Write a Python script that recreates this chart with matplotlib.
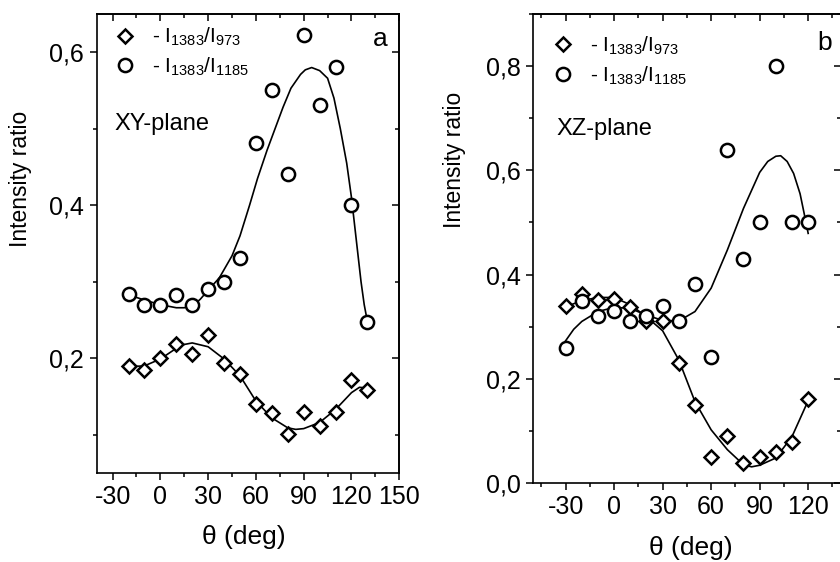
import numpy as np
import matplotlib
matplotlib.use('Agg')
import matplotlib.pyplot as plt
from matplotlib.ticker import MultipleLocator, FuncFormatter

# ---------- data
theta_a = [-20, -10, 0, 10, 20, 30, 40, 50, 60, 70, 80, 90, 100, 110, 120, 130]
a_973 = [0.190, 0.184, 0.200, 0.218, 0.206, 0.230, 0.194, 0.179, 0.140, 0.129,
         0.101, 0.130, 0.111, 0.130, 0.172, 0.159]
a_1185 = [0.284, 0.270, 0.269, 0.283, 0.270, 0.291, 0.300, 0.331, 0.481, 0.551,
          0.441, 0.622, 0.531, 0.581, 0.400, 0.247]

fit_a_1185_x = [-20, -10, 0, 10, 15, 20, 25, 30, 37, 45, 50, 56, 61, 67, 72, 77,
                82, 88, 91, 95, 100, 105, 109, 113, 117, 120, 123, 126, 128, 130]
fit_a_1185_y = [0.283, 0.276, 0.270, 0.266, 0.266, 0.268, 0.277, 0.289, 0.305,
                0.334, 0.360, 0.400, 0.435, 0.472, 0.500, 0.528, 0.553, 0.571,
                0.577, 0.580, 0.576, 0.566, 0.540, 0.500, 0.455, 0.410, 0.355,
                0.300, 0.270, 0.248]
fit_a_973_x = [-20, -10, 0, 10, 15, 20, 30, 40, 50, 60, 70, 80, 85, 90, 100,
               110, 120, 125, 130]
fit_a_973_y = [0.189, 0.190, 0.199, 0.213, 0.218, 0.220, 0.215, 0.199, 0.177,
               0.144, 0.122, 0.109, 0.107, 0.108, 0.116, 0.133, 0.155, 0.162,
               0.161]

theta_b = [-30, -20, -10, 0, 10, 20, 30, 40, 50, 60, 70, 80, 90, 100, 110, 120]
b_973 = [0.340, 0.362, 0.352, 0.353, 0.338, 0.310, 0.310, 0.230, 0.150, 0.049,
         0.090, 0.039, 0.049, 0.060, 0.079, 0.161]
b_1185 = [0.259, 0.350, 0.321, 0.330, 0.311, 0.320, 0.340, 0.311, 0.381, 0.241,
          0.639, 0.430, 0.500, 0.801, 0.500, 0.500]

fit_b_1185_x = [-30, -25, -20, -10, 0, 10, 20, 30, 40, 50, 60, 70, 80, 90, 95,
                100, 103, 107, 111, 115, 118, 120]
fit_b_1185_y = [0.273, 0.295, 0.310, 0.329, 0.337, 0.335, 0.322, 0.312, 0.311,
                0.329, 0.374, 0.447, 0.527, 0.596, 0.617, 0.627, 0.628, 0.617,
                0.594, 0.555, 0.510, 0.479]
fit_b_973_x = [-30, -20, -10, 0, 10, 20, 30, 40, 50, 60, 70, 80, 85, 90, 100,
               110, 120]
fit_b_973_y = [0.338, 0.350, 0.356, 0.356, 0.342, 0.319, 0.292, 0.236, 0.156,
               0.102, 0.064, 0.035, 0.031, 0.034, 0.048, 0.089, 0.158]

lab_973 = r'- $\mathrm{I_{1383}/I_{973}}$'
lab_1185 = r'- $\mathrm{I_{1383}/I_{1185}}$'

# ---------- style
plt.rcParams['font.family'] = ['Liberation Sans', 'DejaVu Sans']
plt.rcParams['mathtext.fontset'] = 'custom'
plt.rcParams['mathtext.rm'] = 'Liberation Sans'
plt.rcParams['mathtext.it'] = 'Liberation Sans:italic'
plt.rcParams['mathtext.bf'] = 'Liberation Sans:bold'
plt.rcParams['axes.linewidth'] = 1.2
plt.rcParams['axes.unicode_minus'] = False

comma = FuncFormatter(lambda v, p: ('%.1f' % v).replace('.', ','))

fig = plt.figure(figsize=(8.4, 5.62), dpi=100)
ax_a = fig.add_axes([0.1151, 0.1584, 0.3602, 0.8167])
ax_b = fig.add_axes([0.6349, 0.1406, 0.3657, 0.8345])


def style_axes(ax, xlim, ylim, xticks, yticks):
    ax.set_xlim(*xlim)
    ax.set_ylim(*ylim)
    ax.set_xticks(xticks)
    ax.xaxis.set_minor_locator(MultipleLocator(15))
    ax.set_yticks(yticks)
    ax.yaxis.set_minor_locator(MultipleLocator(0.1))
    ax.yaxis.set_major_formatter(comma)
    ax.tick_params(which='both', direction='out', width=1.1, labelsize=18)
    ax.tick_params(which='major', length=5, pad=4)
    ax.tick_params(which='minor', length=3)
    # top and right ticks point inwards
    top = ax.secondary_xaxis('top')
    top.set_xticks(xticks)
    top.xaxis.set_minor_locator(MultipleLocator(15))
    top.tick_params(which='both', direction='in', labeltop=False, width=1.1)
    top.tick_params(which='major', length=5)
    top.tick_params(which='minor', length=3)
    right = ax.secondary_yaxis('right')
    right.set_yticks(yticks)
    right.yaxis.set_minor_locator(MultipleLocator(0.1))
    right.tick_params(which='both', direction='in', labelright=False, width=1.1)
    right.tick_params(which='major', length=5)
    right.tick_params(which='minor', length=3)


mk = dict(linestyle='none', mfc='white', mec='black', mew=1.8)
leg = dict(loc='upper left', frameon=False, fontsize=15, numpoints=1,
           handlelength=1.0, handletextpad=0.8, borderaxespad=0, borderpad=0,
           labelspacing=0.35)

# ---------- panel a
ax = ax_a
ax.plot(fit_a_1185_x, fit_a_1185_y, color='black', lw=1.2)
ax.plot(fit_a_973_x, fit_a_973_y, color='black', lw=1.2)
ax.plot(theta_a, a_973, marker='D', ms=7.5, label=lab_973, **mk)
ax.plot(theta_a, a_1185, marker='o', ms=9.5, label=lab_1185, **mk)
style_axes(ax, (-40, 150), (0.05, 0.65), [-30, 0, 30, 60, 90, 120, 150],
           [0.2, 0.4, 0.6])
ax.set_xlabel('θ (deg)', fontsize=19)
ax.xaxis.set_label_coords(0.487, -0.113)
ax.set_ylabel('Intensity ratio', fontsize=16.5)
ax.yaxis.set_label_coords(-0.215, 0.64)
ax.text(0.06, 0.761, 'XY-plane', transform=ax.transAxes, fontsize=17,
        va='center', ha='left')
ax.text(0.963, 0.945, 'a', transform=ax.transAxes, fontsize=19,
        va='center', ha='right')
ax.legend(bbox_to_anchor=(0.059, 0.974), **leg)

# ---------- panel b
ax = ax_b
ax.plot(fit_b_1185_x, fit_b_1185_y, color='black', lw=1.2)
ax.plot(fit_b_973_x, fit_b_973_y, color='black', lw=1.2)
ax.plot(theta_b, b_973, marker='D', ms=7.5, label=lab_973, **mk)
ax.plot(theta_b, b_1185, marker='o', ms=9.5, label=lab_1185, **mk)
style_axes(ax, (-50, 140), (0.0, 0.9), [-30, 0, 30, 60, 90, 120],
           [0.0, 0.2, 0.4, 0.6, 0.8])
ax.set_xlabel('θ (deg)', fontsize=19)
ax.xaxis.set_label_coords(0.512, -0.112)
ax.set_ylabel('Intensity ratio', fontsize=16.5)
ax.yaxis.set_label_coords(-0.219, 0.69)
ax.text(0.074, 0.755, 'XZ-plane', transform=ax.transAxes, fontsize=17,
        va='center', ha='left')
ax.text(0.971, 0.9375, 'b', transform=ax.transAxes, fontsize=19,
        va='center', ha='right')
ax.legend(bbox_to_anchor=(0.064, 0.956), **leg)

fig.savefig('out.png', dpi=100)
